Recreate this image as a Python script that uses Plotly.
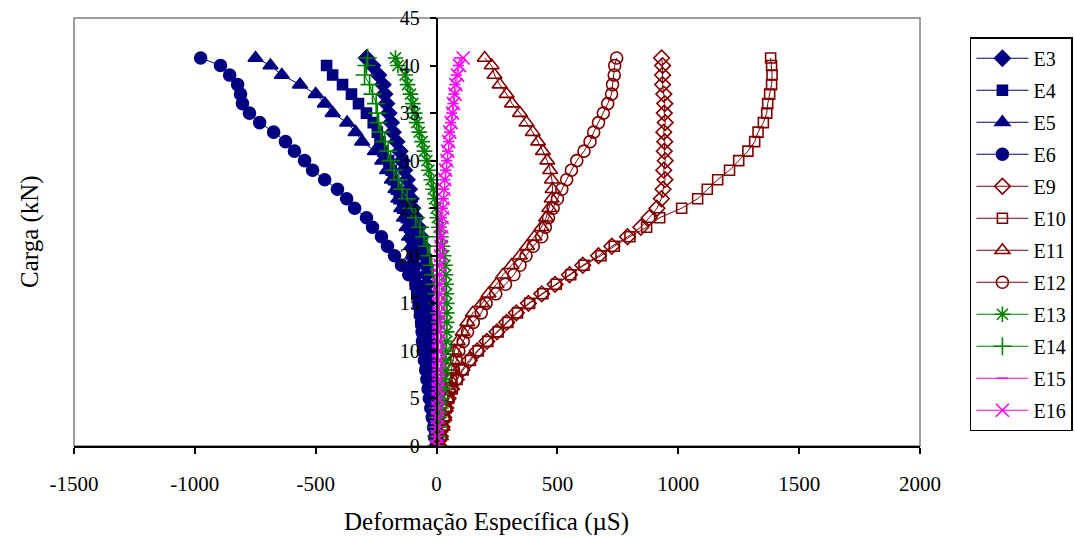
import plotly.graph_objects as go

carga = [0, 1, 2, 3, 4, 5, 6, 7, 8, 9, 10, 11, 12, 13, 14, 15, 16, 17, 18, 19, 20,
         21, 22, 23, 24, 25, 26, 27, 28, 29, 30, 31, 32, 33, 34, 35, 36, 37, 38, 39, 40, 40.8]

E3 = [0, -2, -4, -7, -10, -13, -16, -19, -22, -24, -26, -28, -30, -32, -34, -36, -38, -40, -42, -45, -50,
      -57, -65, -75, -86, -99, -106, -113, -122, -133, -143, -152, -165, -180, -188, -198, -207, -215, -222, -240, -265, -290]
E4 = [0, -4, -8, -12, -17, -22, -27, -32, -37, -42, -47, -52, -58, -64, -70, -76, -82, -88, -92, -95, -97,
      -100, -106, -112, -125, -140, -155, -166, -178, -188, -198, -222, -234, -245, -262, -290, -323, -352, -389, -430, -455, None]
E5 = [0, -2, -4, -7, -10, -14, -18, -22, -27, -32, -38, -44, -50, -56, -62, -66, -70, -75, -80, -88, -96,
      -105, -114, -124, -135, -146, -158, -170, -185, -205, -225, -255, -308, -335, -370, -430, -462, -500, -565, -640, -687, -749]
E6 = [0, -6, -12, -18, -24, -30, -35, -40, -45, -50, -55, -58, -60, -62, -64, -66, -72, -85, -115, -145, -174,
      -203, -228, -265, -290, -339, -372, -410, -463, -513, -546, -588, -625, -674, -732, -774, -803, -811, -823, -856, -894, -976]
E9 = [10, 16, 23, 30, 38, 48, 62, 82, 105, 135, 168, 208, 250, 290, 330, 380, 435, 490, 550, 605, 670,
      725, 790, 845, 880, 912, 930, 937, 945, 940, 946, 942, 944, 940, 946, 942, 944, 940, 935, 935, 935, 931]
E10 = [12, 18, 25, 32, 40, 50, 65, 85, 110, 140, 172, 212, 255, 295, 335, 385, 440, 495, 555, 610, 680,
       735, 800, 869, 923, 1014, 1080, 1120, 1163, 1212, 1250, 1288, 1316, 1330, 1352, 1366, 1370, 1378, 1386, 1388, 1386, 1382]
E11 = [10, 18, 25, 32, 38, 44, 50, 56, 62, 68, 74, 88, 108, 127, 150, 188, 215, 248, 275, 310, 345,
       375, 405, 434, 453, 466, 476, 480, 477, 470, 458, 440, 420, 398, 372, 345, 312, 290, 261, 240, 228, 199]
E12 = [10, 15, 22, 30, 38, 45, 52, 60, 70, 82, 92, 110, 128, 152, 185, 205, 245, 285, 320, 345, 370,
       400, 435, 450, 463, 482, 500, 518, 538, 558, 580, 610, 635, 650, 670, 690, 708, 724, 728, 735, 737, 745]
E13 = [0, 4, 8, 12, 18, 24, 28, 32, 36, 38, 40, 41, 42, 42, 42, 42, 41, 40, 38, 35, 30,
       25, 18, 10, 3, -2, -8, -14, -22, -32, -40, -50, -60, -72, -82, -90, -98, -108, -120, -130, -160, -170]
E14 = [0, 1, 2, 4, 6, 12, 15, 18, 20, 22, 22, 20, 18, 15, 10, 5, 0, -8, -14, -20, -28,
       -38, -52, -68, -86, -103, -122, -143, -158, -176, -190, -200, -215, -230, -240, -245, -250, -265, -277, -298, -290, -285]
E15 = [0, 1, 2, 3, 3, 4, 5, 5, 6, 6, 7, 7, 8, 8, 8, 9, 9, 10, 10, 11, 12,
       13, 15, 17, 20, 24, 27, 30, 34, 38, 42, 46, 50, 54, 58, 62, 68, 72, 76, 82, 90, 95]
E16 = [0, 2, 3, 4, 5, 6, 6, 7, 7, 8, 8, 8, 9, 9, 10, 10, 11, 11, 12, 14, 16,
       18, 20, 22, 24, 26, 28, 31, 34, 38, 43, 46, 50, 55, 60, 66, 70, 76, 80, 87, 95, 110]

x_ticks = [-1500, -1000, -500, 0, 500, 1000, 1500, 2000]
y_ticks = [0, 5, 10, 15, 20, 25, 30, 35, 40, 45]

NAVY = "#000080"
RED = "#800000"
GREEN = "#008000"
MAG = "#FF00FF"

series = [
    ("E3", E3, NAVY, "diamond", 12),
    ("E4", E4, NAVY, "square", 10),
    ("E5", E5, NAVY, "triangle-up", 13),
    ("E6", E6, NAVY, "circle", 12),
    ("E9", E9, RED, "diamond-open", 12),
    ("E10", E10, RED, "square-open", 10),
    ("E11", E11, RED, "triangle-up-open", 13),
    ("E12", E12, RED, "circle-open", 12),
    ("E13", E13, GREEN, "asterisk-open", 13),
    ("E14", E14, GREEN, "cross-thin-open", 13),
    ("E15", E15, MAG, "line-ew-open", 8),
    ("E16", E16, MAG, "x-thin-open", 13),
]

FONT = "Liberation Serif, Times New Roman, serif"

fig = go.Figure()
for name, vals, col, sym, sz in series:
    fig.add_trace(go.Scatter(
        x=vals, y=carga, name=name, mode="lines+markers",
        legendgroup=name,
        line=dict(color=col, width=1),
        marker=dict(symbol=sym, size=sz, color=col,
                    line=dict(color=col, width=1.6)),
    ))

fig.update_layout(
    width=1075, height=536,
    margin=dict(l=74, r=155, t=18, b=90, autoexpand=False),
    paper_bgcolor="white", plot_bgcolor="white",
    font=dict(family=FONT, size=20, color="black"),
    showlegend=True,
    legend=dict(
        x=1.059, y=0.955, xanchor="left", yanchor="top",
        bordercolor="black", borderwidth=1.5,
        font=dict(family=FONT, size=20, color="black"),
        tracegroupgap=3, itemwidth=52,
    ),
    xaxis=dict(
        range=[-1500, 2000], tickvals=x_ticks, ticktext=[str(v) for v in x_ticks],
        showgrid=False, zeroline=False,
        showline=True, linecolor="black", linewidth=1.5,
        ticks="outside", ticklen=6, tickwidth=1.5, tickcolor="black",
        ticklabelstandoff=12,
        tickfont=dict(family=FONT, size=21),
    ),
    yaxis=dict(
        range=[0, 45], tickvals=y_ticks, ticktext=[str(v) for v in y_ticks],
        anchor="free", position=1500 / 3500,
        showgrid=False, zeroline=False,
        showline=True, linecolor="black", linewidth=1.5,
        ticks="outside", ticklen=6, tickwidth=1.5, tickcolor="black",
        ticklabelstandoff=6,
        tickfont=dict(family=FONT, size=20),
    ),
    shapes=[dict(type="rect", xref="paper", yref="paper", x0=0, x1=1, y0=0, y1=1,
                 line=dict(color="#808080", width=1.5), layer="below")],
    annotations=[
        dict(text="Carga (kN)", xref="paper", yref="paper", x=-0.052, y=0.5,
             xanchor="center", yanchor="middle", textangle=-90, showarrow=False,
             font=dict(family=FONT, size=25)),
        dict(text="Deformação Específica (µS)", xref="paper", yref="paper",
             x=0.488, y=-0.178, xanchor="center", yanchor="middle", showarrow=False,
             font=dict(family=FONT, size=25)),
    ],
)

fig.write_html("out.html", config={"displayModeBar": False},
               post_script="document.body.style.margin='0';document.body.style.overflow='hidden';")
